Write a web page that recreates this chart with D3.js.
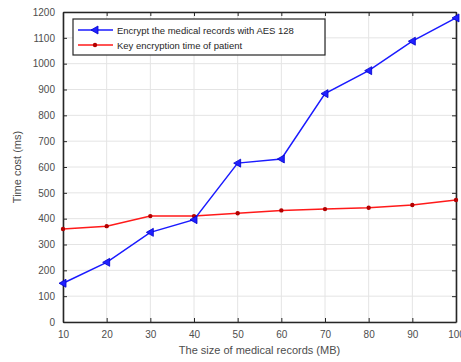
<!DOCTYPE html>
<html lang="en">
  <head>
    <meta charset="utf-8">
    <title>Time cost chart</title>
    <script src="https://d3js.org/d3.v7.js"></script>
    <style>
      body { margin: 0; background: white; overflow: hidden; }
      text { font-family: "Liberation Sans", Arial, sans-serif; }
    </style>
  </head>
  <body>
    <script>
      // data
      const sizes = [10, 20, 30, 40, 50, 60, 70, 80, 90, 100];
      const aesTime = [150, 231, 347, 396, 615, 631, 884, 973, 1087, 1177];
      const keyTime = [360, 371, 410, 410, 421, 432, 437, 442, 453, 472];
      const yTicks = [0, 100, 200, 300, 400, 500, 600, 700, 800, 900, 1000, 1100, 1200];
      const seriesNames = ["Encrypt the medical records with AES 128", "Key encryption time of patient"];

      const w = 461;
      const h = 362;
      const margin = {top: 12, right: 5, bottom: 40, left: 63};
      const innerWidth = w - margin.left - margin.right;
      const innerHeight = h - margin.top - margin.bottom;

      const svg = d3.select("body")
                    .append("svg")
                    .attr("width", w)
                    .attr("height", h)
                    .style("display", "block");

      svg.append("rect")
         .attr("width", w)
         .attr("height", h)
         .attr("fill", "white");

      const xScale = d3.scaleLinear()
                       .domain([10, 100])
                       .range([0, innerWidth]);

      const yScale = d3.scaleLinear()
                       .domain([0, 1200])
                       .range([innerHeight, 0]);

      const plot = svg.append("g")
                      .attr("transform", `translate(${margin.left}, ${margin.top})`);

      // grid
      plot.append("g")
          .selectAll("line")
          .data(sizes)
          .join("line")
          .attr("x1", d => xScale(d))
          .attr("x2", d => xScale(d))
          .attr("y1", 0)
          .attr("y2", innerHeight)
          .attr("stroke", "#e4e4e4")
          .attr("stroke-width", 1);

      plot.append("g")
          .selectAll("line")
          .data(yTicks)
          .join("line")
          .attr("x1", 0)
          .attr("x2", innerWidth)
          .attr("y1", d => yScale(d))
          .attr("y2", d => yScale(d))
          .attr("stroke", "#e4e4e4")
          .attr("stroke-width", 1);

      // axes
      const fmt = d3.format("d");
      const xAxis = d3.axisBottom(xScale).tickValues(sizes).tickFormat(fmt).tickSizeInner(-4).tickSizeOuter(0).tickPadding(9);
      const yAxis = d3.axisLeft(yScale).tickValues(yTicks).tickFormat(fmt).tickSizeInner(-4).tickSizeOuter(0).tickPadding(8);

      const gx = plot.append("g")
          .attr("transform", `translate(0, ${innerHeight})`)
          .call(xAxis);
      const gy = plot.append("g").call(yAxis);

      plot.append("g")
          .call(d3.axisTop(xScale).tickValues(sizes).tickSizeInner(-4).tickSizeOuter(0).tickFormat(""));
      plot.append("g")
          .attr("transform", `translate(${innerWidth}, 0)`)
          .call(d3.axisRight(yScale).tickValues(yTicks).tickSizeInner(-4).tickSizeOuter(0).tickFormat(""));

      plot.selectAll(".domain").attr("stroke", "#262626").attr("stroke-width", 1.6);
      plot.selectAll(".tick line").attr("stroke", "#262626");
      [gx, gy].forEach(g => g.selectAll("text")
                             .attr("fill", "#4d4d4d")
                             .style("font-size", "10px"));

      // lines
      const line = d3.line()
                     .x((d, i) => xScale(sizes[i]))
                     .y(d => yScale(d));

      plot.append("path")
          .datum(keyTime)
          .attr("d", line)
          .attr("fill", "none")
          .attr("stroke", "#ff1a1a")
          .attr("stroke-width", 1.5);

      plot.append("g")
          .selectAll("circle")
          .data(keyTime)
          .join("circle")
          .attr("cx", (d, i) => xScale(sizes[i]))
          .attr("cy", d => yScale(d))
          .attr("r", 2.2)
          .attr("fill", "#b30000");

      plot.append("path")
          .datum(aesTime)
          .attr("d", line)
          .attr("fill", "none")
          .attr("stroke", "#1a1aff")
          .attr("stroke-width", 1.5);

      const tri = "M-4,0L3,-4L3,4Z";
      plot.append("g")
          .selectAll("path")
          .data(aesTime)
          .join("path")
          .attr("transform", (d, i) => `translate(${xScale(sizes[i])}, ${yScale(d)})`)
          .attr("d", tri)
          .attr("fill", "#2020ff")
          .attr("stroke", "#0000cc")
          .attr("stroke-width", 0.8);

      // legend
      const legend = plot.append("g")
                         .attr("transform", "translate(10, 7)");
      legend.append("rect")
            .attr("width", 252)
            .attr("height", 36)
            .attr("fill", "white")
            .attr("stroke", "#262626")
            .attr("stroke-width", 1.2);

      const colors = ["#1a1aff", "#ff1a1a"];
      seriesNames.forEach((name, i) => {
        const yy = 11 + i * 15;
        legend.append("line")
              .attr("x1", 5).attr("x2", 40)
              .attr("y1", yy).attr("y2", yy)
              .attr("stroke", colors[i])
              .attr("stroke-width", 1.5);
        if (i === 0) {
          legend.append("path")
                .attr("transform", `translate(22, ${yy})`)
                .attr("d", tri)
                .attr("fill", "#2020ff")
                .attr("stroke", "#0000cc")
                .attr("stroke-width", 0.8);
        } else {
          legend.append("circle")
                .attr("cx", 22).attr("cy", yy).attr("r", 2.2)
                .attr("fill", "#b30000");
        }
        legend.append("text")
              .attr("x", 44)
              .attr("y", yy + 3.5)
              .attr("fill", "#262626")
              .style("font-size", "9.5px")
              .text(name);
      });

      // axis titles
      svg.append("text")
         .attr("x", margin.left + innerWidth / 2)
         .attr("y", 354)
         .attr("text-anchor", "middle")
         .attr("fill", "#4d4d4d")
         .style("font-size", "11px")
         .text("The size of medical records (MB)");

      svg.append("text")
         .attr("transform", `translate(21, ${margin.top + innerHeight / 2}) rotate(-90)`)
         .attr("text-anchor", "middle")
         .attr("fill", "#4d4d4d")
         .style("font-size", "11px")
         .text("Time cost (ms)");
    </script>
  </body>
</html>
